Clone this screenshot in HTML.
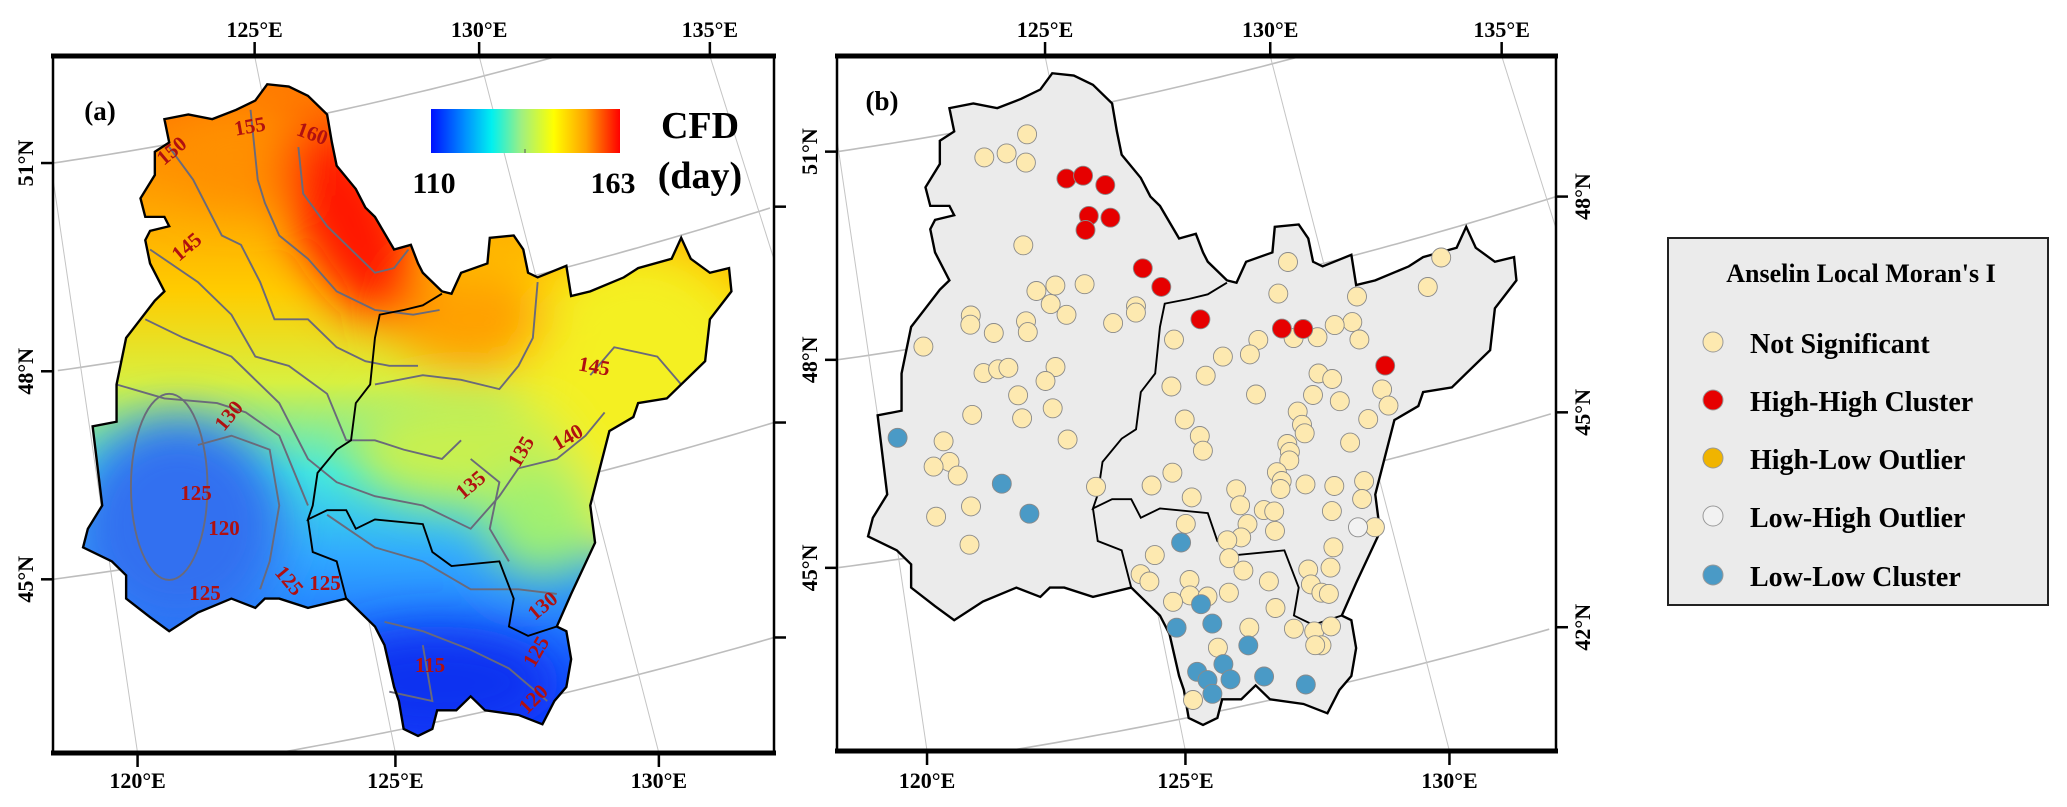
<!DOCTYPE html>
<html><head><meta charset="utf-8">
<style>
html,body{margin:0;padding:0;background:#fff;width:2067px;height:807px;overflow:hidden;}
svg{display:block;overflow:hidden;}
text{font-family:"Liberation Serif",serif;font-weight:bold;}
</style></head>
<body>
<svg id="fig" width="2067" height="807" viewBox="0 0 2067 807" xmlns="http://www.w3.org/2000/svg">
<defs>
  <clipPath id="clipA"><rect x="53" y="56" width="721" height="697"/></clipPath>
  <clipPath id="clipB"><rect x="837" y="56" width="719" height="695"/></clipPath>
  <path id="region" d="M475,95 L520,100 L560,120 L600,160 L610,220 L620,270 L660,320 L680,360 L700,380 L740,450 L775,440 L790,480 L800,500 L840,540 L860,545 L880,500 L935,480 L940,425 L990,420 L1010,450 L1020,500 L1040,510 L1100,485 L1110,550 L1150,540 L1220,510 L1250,490 L1320,470 L1340,425 L1360,470 L1400,500 L1440,490 L1445,540 L1400,600 L1390,690 L1340,740 L1310,770 L1250,780 L1240,810 L1190,840 L1170,920 L1150,1000 L1160,1080 L1110,1190 L1080,1260 L1100,1270 L1110,1330 L1100,1390 L1075,1420 L1050,1470 L1000,1450 L930,1440 L900,1410 L870,1440 L830,1440 L820,1480 L790,1495 L760,1480 L750,1420 L740,1390 L720,1300 L700,1260 L670,1230 L640,1200 L600,1210 L560,1220 L500,1200 L470,1200 L450,1220 L400,1200 L330,1230 L270,1270 L230,1240 L180,1200 L180,1150 L150,1120 L90,1090 L100,1050 L130,1000 L110,830 L160,820 L160,740 L170,690 L180,640 L210,600 L240,560 L260,540 L230,480 L220,430 L230,410 L270,400 L260,380 L220,380 L210,340 L240,290 L240,240 L270,220 L260,170 L310,160 L360,170 L410,150 L450,130 Z"/>
  <path id="inner" d="M840,545 L800,570 L760,580 L710,590 L700,640 L690,740 L660,780 L650,860 L620,880 L580,930 L570,1000 L560,1030 L600,1010 L640,1010 L660,1050 L700,1030 L800,1040 L820,1100 L860,1130 L960,1120 L990,1200 L980,1260 L1020,1280 L1080,1260 M560,1030 L570,1100 L620,1120 L640,1200"/>
  <clipPath id="regClip"><use href="#region"/></clipPath>
  <filter id="blur" x="-50%" y="-50%" width="200%" height="200%"><feGaussianBlur stdDeviation="50"/></filter>
  <linearGradient id="baseGrad" gradientUnits="userSpaceOnUse" x1="0" y1="150" x2="0" y2="1450">
    <stop offset="0" stop-color="#ff7a00"/>
    <stop offset="0.3" stop-color="#ffcc00"/>
    <stop offset="0.45" stop-color="#d8f040"/>
    <stop offset="0.6" stop-color="#40e8e0"/>
    <stop offset="0.74" stop-color="#30a8ff"/>
    <stop offset="1" stop-color="#1040ff"/>
  </linearGradient>
  <linearGradient id="cbar" x1="0" y1="0" x2="1" y2="0">
    <stop offset="0" stop-color="#0010ff"/>
    <stop offset="0.18" stop-color="#0090ff"/>
    <stop offset="0.32" stop-color="#00f0f0"/>
    <stop offset="0.48" stop-color="#a0f080"/>
    <stop offset="0.65" stop-color="#ffff00"/>
    <stop offset="0.82" stop-color="#ffa000"/>
    <stop offset="1" stop-color="#ff0000"/>
  </linearGradient>
</defs>

<!-- Panel A -->
<g id="panelA">
  <g id="gratA" clip-path="url(#clipA)"></g>
  <g transform="translate(40,40) scale(0.4785,0.4655)">
    <g clip-path="url(#regClip)">
      <rect x="80" y="90" width="1380" height="1410" fill="url(#baseGrad)"/>
      <g filter="url(#blur)">
        <ellipse cx="1250" cy="780" rx="260" ry="330" fill="#f4f020"/>
        <ellipse cx="880" cy="880" rx="230" ry="120" fill="#c8f050"/>
        <ellipse cx="900" cy="600" rx="160" ry="110" fill="#ffa000"/>
        <ellipse cx="420" cy="250" rx="160" ry="100" fill="#ff9000"/>
        <ellipse cx="650" cy="390" rx="110" ry="230" fill="#ff1800" transform="rotate(-25 650 390)"/>
        <ellipse cx="290" cy="1040" rx="220" ry="230" fill="#3070f0"/>
        <ellipse cx="830" cy="1380" rx="260" ry="120" fill="#1030f0"/>
        <ellipse cx="1050" cy="1030" rx="120" ry="120" fill="#a0f070"/>
      </g>
    </g>
    <g fill="none" stroke="#6a6a7a" stroke-width="4">
      <polyline points="540,230 550,330 600,400 660,460 700,500 740,490 770,450"/>
      <polyline points="440,150 455,300 470,350 500,420 560,470 620,540 700,580 780,590 835,580"/>
      <polyline points="270,230 320,300 380,420 420,440 460,520 490,600 560,600 620,660 680,690 730,700 790,700"/>
      <polyline points="700,740 800,720 880,730 960,750 1000,700 1030,640 1040,520"/>
      <polyline points="230,450 330,520 400,590 450,680 520,700 600,760 640,860 700,860 760,880 840,900 880,860"/>
      <polyline points="1150,720 1200,660 1290,680 1340,740"/>
      <polyline points="220,600 300,640 400,680 500,780 560,900 620,950 700,980 800,1000 900,1050 960,980 1000,920 1080,900 1140,850 1180,800"/>
      <polyline points="160,740 260,770 370,780 430,800 500,850 540,950 560,1000"/>
      <polyline points="600,1020 700,1090 800,1120 900,1180 1000,1180 1080,1190"/>
      <ellipse cx="270" cy="960" rx="80" ry="200"/>
      <polyline points="330,870 400,850 480,880 500,1000 480,1120 460,1180"/>
      <polyline points="720,1250 800,1270 900,1310 980,1350 1060,1420"/>
      <polyline points="730,1400 820,1420 800,1300"/>
      <polyline points="900,900 960,950 940,1050 980,1120"/>
    </g>
    <use href="#region" fill="none" stroke="#000" stroke-width="5"/>
    <use href="#inner" fill="none" stroke="#000" stroke-width="4"/>
  </g>
  <g fill="#b01010" font-size="21">
    <text x="176" y="156" text-anchor="middle" transform="rotate(-40 176 156)">150</text>
    <text x="251" y="133" text-anchor="middle" transform="rotate(-10 251 133)">155</text>
    <text x="310" y="140" text-anchor="middle" transform="rotate(20 310 140)">160</text>
    <text x="191" y="252" text-anchor="middle" transform="rotate(-40 191 252)">145</text>
    <text x="234" y="420" text-anchor="middle" transform="rotate(-50 234 420)">130</text>
    <text x="196" y="500" text-anchor="middle">125</text>
    <text x="224" y="535" text-anchor="middle">120</text>
    <text x="205" y="600" text-anchor="middle">125</text>
    <text x="284" y="585" text-anchor="middle" transform="rotate(50 284 585)">125</text>
    <text x="325" y="590" text-anchor="middle">125</text>
    <text x="593" y="373" text-anchor="middle" transform="rotate(10 593 373)">145</text>
    <text x="571" y="443" text-anchor="middle" transform="rotate(-30 571 443)">140</text>
    <text x="527" y="455" text-anchor="middle" transform="rotate(-60 527 455)">135</text>
    <text x="475" y="490" text-anchor="middle" transform="rotate(-40 475 490)">135</text>
    <text x="547" y="611" text-anchor="middle" transform="rotate(-40 547 611)">130</text>
    <text x="542" y="655" text-anchor="middle" transform="rotate(-60 542 655)">125</text>
    <text x="430" y="672" text-anchor="middle">115</text>
    <text x="538" y="704" text-anchor="middle" transform="rotate(-45 538 704)">120</text>
  </g>
  <text x="100" y="120" font-size="27" text-anchor="middle">(a)</text>
  <g>
    <rect x="431" y="109" width="189" height="44" fill="url(#cbar)"/>
    <line x1="525" y1="149" x2="525" y2="153" stroke="#555" stroke-width="1"/>
    <text x="434" y="193" font-size="30" text-anchor="middle">110</text>
    <text x="613" y="193" font-size="30" text-anchor="middle">163</text>
    <text x="700" y="138" font-size="38" text-anchor="middle">CFD</text>
    <text x="700" y="188" font-size="38" text-anchor="middle">(day)</text>
  </g>
  <g id="frameA">
    <rect x="53" y="56" width="721" height="697" fill="none" stroke="#000" stroke-width="2.5"/>
    <line x1="51" y1="56" x2="776" y2="56" stroke="#000" stroke-width="5"/>
    <line x1="51" y1="753" x2="776" y2="753" stroke="#000" stroke-width="5"/>
  </g>
  <g id="ticksA"></g>
</g>

<!-- Panel B -->
<g id="panelB">
  <g id="gratB" clip-path="url(#clipB)"></g>
  <g transform="translate(825,29) scale(0.4785,0.4655)">
    <use href="#region" fill="#ebebeb" stroke="#000" stroke-width="5"/>
    <use href="#inner" fill="none" stroke="#000" stroke-width="4"/>
  </g>
  <g id="stations"></g>
  <text x="882" y="110" font-size="27" text-anchor="middle">(b)</text>
  <g id="frameB">
    <rect x="837" y="56" width="719" height="695" fill="none" stroke="#000" stroke-width="2.5"/>
    <line x1="835" y1="56" x2="1558" y2="56" stroke="#000" stroke-width="5"/>
    <line x1="835" y1="751" x2="1558" y2="751" stroke="#000" stroke-width="5"/>
  </g>
  <g id="ticksB"></g>
</g>

<!-- Legend -->
<g>
  <rect x="1668" y="238" width="380" height="367" fill="#ebebeb" stroke="#222" stroke-width="2"/>
  <text x="1861" y="282" font-size="26" text-anchor="middle">Anselin Local Moran's I</text>
  <g>
    <circle cx="1713" cy="342" r="10" fill="#fde9b0" stroke="#999" stroke-width="1"/>
    <text x="1750" y="353" font-size="28">Not Significant</text>
  </g>
  <g>
    <circle cx="1713" cy="400" r="10" fill="#e60000" stroke="#999" stroke-width="1"/>
    <text x="1750" y="411" font-size="28">High-High Cluster</text>
  </g>
  <g>
    <circle cx="1713" cy="458" r="10" fill="#f0b400" stroke="#999" stroke-width="1"/>
    <text x="1750" y="469" font-size="28">High-Low Outlier</text>
  </g>
  <g>
    <circle cx="1713" cy="516" r="10" fill="#f2f2f2" stroke="#999" stroke-width="1"/>
    <text x="1750" y="527" font-size="28">Low-High Outlier</text>
  </g>
  <g>
    <circle cx="1713" cy="575" r="10" fill="#4a9ac6" stroke="#999" stroke-width="1"/>
    <text x="1750" y="586" font-size="28">Low-Low Cluster</text>
  </g>
</g>
</svg>

<script>
// Station data (longitude / latitude, degrees)
const hhLon = [124.98,125.34,125.76,125.28,125.72,125.15,126.17,126.47,127.14,128.79,129.23,130.77];
const hhLat = [50.04,50.03,49.83,49.44,49.35,49.25,48.53,48.21,47.63,47.25,47.18,46.41];
const llLon = [120.33,122.29,122.73,125.75,125.89,125.28,126.04,126.69,126.09,125.51,125.69,126.17,126.88,127.71,125.73];
const llLat = [46.86,45.89,45.38,44.51,43.57,43.31,43.26,42.84,42.65,42.62,42.47,42.41,42.35,42.11,42.26];
const lhLon = [129.49];
const lhLat = [44.19];
const nsLon = [124.36,123.37,123.85,124.21,123.79,124.89,124.28,123.86,124.10,124.38,122.39,122.34,122.79,123.51,123.50,125.31,125.86,125.83,121.27,122.40,122.72,122.94,123.92,123.65,123.02,123.68,121.98,123.00,123.85,121.27,121.30,120.95,121.41,124.23,121.55,120.78,121.35,129.21,132.41,132.00,128.87,130.49,130.28,129.90,130.35,129.49,128.99,128.25,128.01,127.44,126.50,127.00,126.24,129.35,129.61,127.96,129.14,129.67,130.60,130.66,130.18,128.75,128.78,128.80,126.37,126.61,126.61,128.39,128.41,129.70,128.36,128.05,125.88,125.39,128.11,128.05,128.59,129.18,129.82,129.70,127.13,127.14,126.17,127.61,127.82,127.75,127.21,127.02,129.02,129.84,125.93,126.72,126.68,126.92,125.15,124.77,124.92,125.76,125.70,126.06,126.52,127.40,125.32,128.27,128.74,128.26,128.44,128.59,128.89,127.42,126.79,127.71,128.12,128.49,128.21,128.08,126.05,125.30];
const nsLat = [50.79,50.59,50.58,50.39,49.22,48.48,48.55,48.53,48.30,48.10,48.38,48.25,48.06,48.13,47.97,47.84,48.01,47.92,48.08,47.52,47.53,47.52,47.39,47.22,47.10,46.81,46.96,46.76,46.32,46.67,46.36,46.34,46.14,45.56,45.66,45.62,45.12,48.18,47.78,47.40,47.76,47.48,47.13,47.14,46.86,47.02,47.08,47.16,46.98,47.03,47.42,46.81,46.76,46.50,46.38,46.39,46.21,46.04,46.08,45.83,45.70,46.02,45.82,45.69,46.25,45.97,45.75,45.59,45.47,45.42,45.35,45.22,45.53,45.41,45.08,44.97,44.96,44.85,44.83,44.58,45.10,44.86,45.12,44.72,44.67,44.39,44.57,44.40,44.50,44.14,44.76,44.40,44.14,43.92,44.41,44.18,44.05,43.95,43.73,43.66,43.65,43.69,43.69,43.74,43.70,43.52,43.37,43.33,43.98,43.29,43.09,42.94,42.84,42.86,42.62,42.64,42.90,42.23];
// Graticule / axis tick values
const lonTicksTopA = [125,130,135];
const lonTicksBottom = [120,125,130];
const latTicksLeft = [51,48,45];
const latTicksRight = [48,45,42];
const latLines = [42,45,48,51];
const lonLines = [120,125,130,135];

const NS = "http://www.w3.org/2000/svg";
const POLE_B = {px:231, py:-3974};
const POLE_A = {px:-557, py:-3962};
function conic(p, lon, lat){
  const r = 4376 + (48 - lat) * 68.7;
  const t = (11.42 + (lon - 125) * 0.608) * Math.PI / 180;
  return [p.px + r * Math.sin(t), p.py + r * Math.cos(t)];
}
function lonAtY(p, lon, y){
  const t = (11.42 + (lon - 125) * 0.608) * Math.PI / 180;
  const r = (y - p.py) / Math.cos(t);
  return p.px + r * Math.sin(t);
}
function latAtX(p, lat, x){
  const r = 4376 + (48 - lat) * 68.7;
  return p.py + Math.sqrt(r * r - (x - p.px) * (x - p.px));
}
function stationXY(lon, lat){
  const a = lon - 120.48, b = 52.76 - lat;
  const det = 0.00993 * 0.00663 + 0.00206 * 0.00145;
  const u = (0.00663 * a + 0.00206 * b) / det;
  const v = (-0.00145 * a + 0.00993 * b) / det;
  return [820 + u / 2.09, 40 + v / 2.148];
}
function mk(tag, attrs, parent){
  const el = document.createElementNS(NS, tag);
  for (const k in attrs) el.setAttribute(k, attrs[k]);
  parent.appendChild(el);
  return el;
}
function drawGraticule(g, p, f){
  for (const lat of latLines){
    let d = "";
    for (let lon = 105; lon <= 145; lon += 0.25){
      const [x, y] = conic(p, lon, lat);
      if (x < f.left - 4 || x > f.right + 4 || y < f.top - 4 || y > f.bottom + 4) continue;
      d += (d ? "L" : "M") + x.toFixed(1) + "," + y.toFixed(1);
    }
    if (!d) continue;
    const el = mk("path", {d: d, fill: "none", stroke: "#bdbdbd", "stroke-width": 1.6}, g);
    
    
  }
  for (const lon of lonLines){
    const x1 = lonAtY(p, lon, f.top), x2 = lonAtY(p, lon, f.bottom);
    const el = mk("line", {x1: x1, y1: f.top, x2: x2, y2: f.bottom, stroke: "#c4c4c4", "stroke-width": 1}, g);
    
    
  }
}
function label(g, txt, x, y, rot){
  const t = mk("text", {x: x, y: y, "font-size": 22, "text-anchor": "middle"}, g);
  if (rot) t.setAttribute("transform", "rotate(-90 " + x + " " + y + ")");
  t.textContent = txt;
  
  
  return t;
}
function drawTicks(g, p, f, opts){
  for (const lon of lonTicksTopA){
    const x = lonAtY(p, lon, f.top);
    const tk = mk("line", {x1: x, y1: f.top, x2: x, y2: f.top - 14, stroke: "#000", "stroke-width": 2.5}, g);
    
    
    label(g, lon + "°E", x, 37, false);
  }
  for (const lon of lonTicksBottom){
    const x = lonAtY(p, lon, f.bottom);
    const tk = mk("line", {x1: x, y1: f.bottom, x2: x, y2: f.bottom + 14, stroke: "#000", "stroke-width": 2.5}, g);
    
    
    label(g, lon + "°E", x, 788, false);
  }
  for (const lat of latTicksLeft){
    const y = latAtX(p, lat, f.left);
    const tk = mk("line", {x1: f.left, y1: y, x2: f.left - 12, y2: y, stroke: "#000", "stroke-width": 2.5}, g);
    
    
    label(g, lat + "°N", f.left - 20, y, true);
  }
  for (const lat of latTicksRight){
    const y = latAtX(p, lat, f.right);
    const tk = mk("line", {x1: f.right, y1: y, x2: f.right + 12, y2: y, stroke: "#000", "stroke-width": 2.5}, g);
    
    
    if (opts.rightLabels) label(g, lat + "°N", f.right + 34, y, true);
  }
}
const FA = {top:56, bottom:753, left:53, right:774};
const FB = {top:56, bottom:751, left:837, right:1556};
drawGraticule(document.getElementById("gratA"), POLE_A, FA);
drawGraticule(document.getElementById("gratB"), POLE_B, FB);
drawTicks(document.getElementById("ticksA"), POLE_A, FA, {rightLabels:false});
drawTicks(document.getElementById("ticksB"), POLE_B, FB, {rightLabels:true});

const sg = document.getElementById("stations");
function drawStations(lons, lats, fill, name){
  for (let i = 0; i < lons.length; i++){
    const [x, y] = stationXY(lons[i], lats[i]);
    const c = mk("circle", {cx: x.toFixed(1), cy: y.toFixed(1), r: 9.5, fill: fill, stroke: "#8a8a8a", "stroke-width": 0.9}, sg);
    
    
  }
}
drawStations(nsLon, nsLat, "#fde9b0", "station-not-significant");
drawStations(lhLon, lhLat, "#f2f2f2", "station-low-high");
drawStations(llLon, llLat, "#4a9ac6", "station-low-low");
drawStations(hhLon, hhLat, "#e60000", "station-high-high");
</script>
</body></html>
